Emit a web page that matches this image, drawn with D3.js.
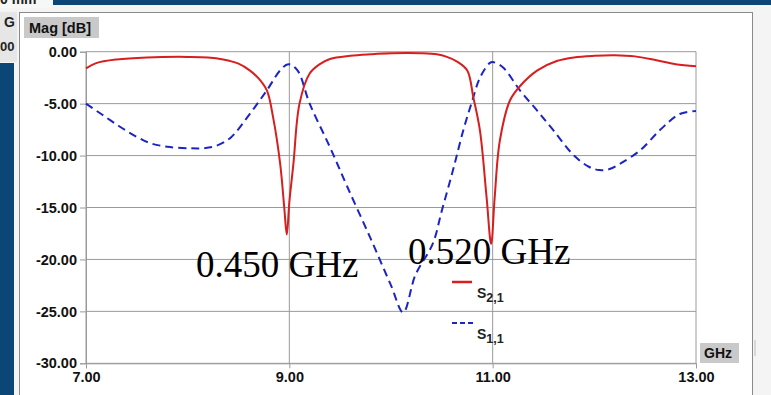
<!DOCTYPE html>
<html><head><meta charset="utf-8">
<script src="https://cdn.jsdelivr.net/npm/d3@7"></script>
<style>body{margin:0;background:#fff;}svg{display:block;}</style>
</head><body>
<svg id="c" width="771" height="395"></svg>
<script>
// ---- data ----
const xTicks = [7, 9, 11, 13];
const xTickLabels = ["7.00", "9.00", "11.00", "13.00"];
const yTicks = [0, -5, -10, -15, -20, -25, -30];
const yTickLabels = ["0.00", "-5.00", "-10.00", "-15.00", "-20.00", "-25.00", "-30.00"];
const s21Freq = [7.0, 7.1, 7.3, 7.6, 8.0, 8.2, 8.35, 8.5, 8.61, 8.7, 8.78, 8.84, 8.91, 8.95, 8.975, 9.0, 9.04, 9.1, 9.2, 9.3, 9.4, 9.6, 9.8, 10.0, 10.3, 10.45, 10.55, 10.65, 10.75, 10.81, 10.875, 10.94, 10.985, 11.02, 11.07, 11.17, 11.27, 11.44, 11.63, 11.8, 12.0, 12.2, 12.4, 12.6, 12.8, 13.0];
const s21Mag  = [-1.6, -1.1, -0.75, -0.55, -0.5, -0.55, -0.75, -1.15, -1.8, -2.6, -3.75, -6.3, -10.8, -15.0, -17.6, -14.5, -10.8, -5.0, -2.1, -1.2, -0.7, -0.4, -0.25, -0.15, -0.15, -0.25, -0.5, -0.95, -1.8, -4.4, -7.6, -14.0, -18.5, -14.0, -8.6, -4.7, -3.3, -1.8, -0.9, -0.55, -0.4, -0.35, -0.45, -0.8, -1.2, -1.4];
const s11Freq = [7.0, 7.15, 7.33, 7.5, 7.63, 7.8, 8.02, 8.15, 8.27, 8.42, 8.61, 8.78, 8.91, 8.99, 9.08, 9.2, 9.4, 9.57, 9.8, 10.0, 10.12, 10.24, 10.41, 10.5, 10.61, 10.71, 10.8, 10.875, 10.97, 11.0, 11.1, 11.27, 11.44, 11.6, 11.8, 11.95, 12.05, 12.15, 12.25, 12.45, 12.65, 12.84, 13.0];
const s11Mag  = [-5.0, -6.0, -7.2, -8.2, -8.8, -9.15, -9.3, -9.3, -9.1, -8.3, -6.0, -3.7, -1.8, -1.2, -1.8, -5.0, -9.2, -13.0, -18.0, -22.5, -25.1, -21.5, -18.5, -15.3, -11.4, -7.6, -4.7, -2.5, -1.1, -1.0, -1.5, -3.75, -5.7, -7.6, -10.0, -11.1, -11.4, -11.3, -10.8, -9.5, -7.5, -6.0, -5.7];
const legendNames = ["2,1", "1,1"];
const annotations = [{text: "0.450 GHz"}, {text: "0.520 GHz"}];

const svg = d3.select("#c");
const frameBlue = "#0b4676";

// ---- window frame ----
svg.append("rect").attr("x", 0).attr("y", 0).attr("width", 771).attr("height", 395).attr("fill", "#f4f4f4");
svg.append("rect").attr("x", 53).attr("y", 0).attr("width", 718).attr("height", 5).attr("fill", frameBlue);
svg.append("rect").attr("x", 0).attr("y", 0).attr("width", 52).attr("height", 8).attr("fill", "#f7f7f7");
svg.append("text").attr("x", 0).attr("y", 4).attr("font-family", "Liberation Sans, Arial").attr("font-weight", "bold").attr("font-size", 14).attr("fill", "#222").text("0 mm");
svg.append("rect").attr("x", 0).attr("y", 12).attr("width", 17).attr("height", 50).attr("fill", "#e6e6e6");
svg.append("text").attr("x", 4).attr("y", 27).attr("font-family", "Liberation Sans, Arial").attr("font-weight", "bold").attr("font-size", 14).attr("fill", "#222").text("G");
svg.append("text").attr("x", 0).attr("y", 51).attr("font-family", "Liberation Sans, Arial").attr("font-weight", "bold").attr("font-size", 13).attr("fill", "#222").text("00");
svg.append("rect").attr("x", 0).attr("y", 63).attr("width", 14).attr("height", 332).attr("fill", frameBlue);
// chart panel
svg.append("rect").attr("x", 19.5).attr("y", 12.5).attr("width", 733).attr("height", 390).attr("fill", "#fff").attr("stroke", "#8a8a8a").attr("stroke-width", 1);

// ---- scales ----
const x = d3.scaleLinear().domain([7, 13]).range([86, 696]);
const y = d3.scaleLinear().domain([0, -30]).range([51.7, 363.3]);

const g = svg.append("g");
// grid
g.selectAll("line.hg").data(yTicks).join("line")
  .attr("x1", x(7)).attr("x2", x(13)).attr("y1", d => y(d)).attr("y2", d => y(d))
  .attr("stroke", "#9a9a9a").attr("stroke-width", 1);
g.selectAll("line.vg").data(xTicks).join("line")
  .attr("x1", d => x(d)).attr("x2", d => x(d)).attr("y1", y(0)).attr("y2", y(-30))
  .attr("stroke", "#9a9a9a").attr("stroke-width", 1);

// axes
const yAxis = d3.axisLeft(y).tickValues(yTicks).tickSize(6).tickPadding(3).tickFormat((d, i) => yTickLabels[i]);
const ya = g.append("g").attr("transform", `translate(${x(7)},0)`).call(yAxis);
ya.select(".domain").attr("stroke", "#9a9a9a");
ya.selectAll(".tick line").attr("stroke", "#9a9a9a");
ya.selectAll("text").attr("font-family", "Liberation Sans, Arial").attr("font-weight", "bold").attr("font-size", 14.5).attr("fill", "#111");

const xAxis = d3.axisBottom(x).tickValues(xTicks).tickSize(5).tickPadding(3).tickFormat((d, i) => xTickLabels[i]);
const xa = g.append("g").attr("transform", `translate(0,${y(-30)})`).call(xAxis);
xa.select(".domain").attr("stroke", "#9a9a9a");
xa.selectAll(".tick line").attr("stroke", "#9a9a9a");
xa.selectAll("text").attr("font-family", "Liberation Sans, Arial").attr("font-weight", "bold").attr("font-size", 14.5).attr("fill", "#111");

// axis title boxes
svg.append("rect").attr("x", 24).attr("y", 17).attr("width", 75).attr("height", 21).attr("fill", "#c9c9c9");
svg.append("text").attr("x", 29).attr("y", 33).attr("font-family", "Liberation Sans, Arial").attr("font-weight", "bold").attr("font-size", 14.5).attr("fill", "#111").text("Mag [dB]");
svg.append("rect").attr("x", 700).attr("y", 343).attr("width", 39).attr("height", 20).attr("fill", "#c9c9c9");
svg.append("text").attr("x", 704).attr("y", 358).attr("font-family", "Liberation Sans, Arial").attr("font-weight", "bold").attr("font-size", 14).attr("fill", "#111").text("GHz");
svg.append("line").attr("x1", 755).attr("x2", 755).attr("y1", 340).attr("y2", 356).attr("stroke", "#bbb");

// ---- curves ----
const line = d3.line().x(d => x(d[0])).y(d => y(d[1])).curve(d3.curveCatmullRom.alpha(0.5));
const s11 = s11Freq.map((f, i) => [f, s11Mag[i]]);
const s21 = s21Freq.map((f, i) => [f, s21Mag[i]]);
g.append("path").attr("d", line(s11)).attr("fill", "none").attr("stroke", "#1c24c4").attr("stroke-width", 2).attr("stroke-dasharray", "8,5");
g.append("path").attr("d", line(s21)).attr("fill", "none").attr("stroke", "#d81e1e").attr("stroke-width", 2);

// ---- legend ----
const lg = svg.append("g");
lg.append("line").attr("x1", 452).attr("x2", 472).attr("y1", 282).attr("y2", 282).attr("stroke", "#d81e1e").attr("stroke-width", 2.5);
lg.append("line").attr("x1", 452).attr("x2", 473).attr("y1", 323).attr("y2", 323).attr("stroke", "#1c24c4").attr("stroke-width", 2).attr("stroke-dasharray", "5,3");
[[0, 298], [1, 339]].forEach(([i, yy]) => {
  const t = lg.append("text").attr("x", 477).attr("y", yy).attr("font-family", "Liberation Sans, Arial").attr("font-weight", "bold").attr("font-size", 14).attr("fill", "#222");
  t.append("tspan").text("S");
  t.append("tspan").attr("dy", 4).attr("font-size", 12.5).text(legendNames[i]);
});

// ---- annotations ----
svg.append("text").attr("x", 196).attr("y", 277).attr("font-family", "Liberation Serif, Times New Roman").attr("font-size", 37).attr("fill", "#000").text(annotations[0].text);
svg.append("text").attr("x", 408).attr("y", 264).attr("font-family", "Liberation Serif, Times New Roman").attr("font-size", 37).attr("fill", "#000").text(annotations[1].text);
</script>
</body></html>
